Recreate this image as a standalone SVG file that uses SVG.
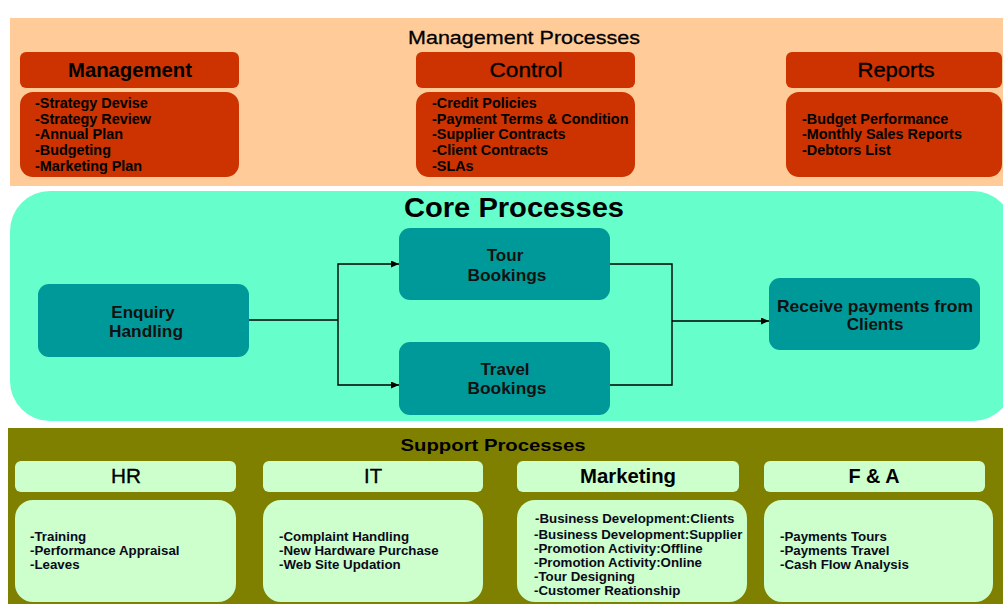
<svg xmlns="http://www.w3.org/2000/svg" width="1003" height="604" viewBox="0 0 1003 604">
  <defs>
    <marker id="arrow" markerWidth="8" markerHeight="7" refX="8" refY="3.5" orient="auto" markerUnits="userSpaceOnUse">
      <path d="M0,0 L8,3.5 L0,7 z" fill="#000"/>
    </marker>
  </defs>
  <style>
    text { font-family: "Liberation Sans", Arial, sans-serif; fill: #000; }
    .band-mgmt { fill: #FFCC99; }
    .band-core { fill: #66FFCC; }
    .band-sup { fill: #808000; }
    .red { fill: #CC3300; }
    .teal { fill: #009999; }
    .pale { fill: #CCFFCC; }
    .title { font-size: 19px; stroke: #000; stroke-width: 0.3; }
    .head { font-size: 20px; text-anchor: middle; }
    .reg { stroke: #000; stroke-width: 0.35; }
    .list { font-size: 14.4px; font-weight: bold; }
    .slist { font-size: 13.3px; font-weight: bold; fill: #0a0a1a; }
    .node { font-size: 17px; font-weight: bold; text-anchor: middle; fill: #111; }
    .conn { fill: none; stroke: #000; stroke-width: 1.4; }
  </style>

  <rect width="1003" height="604" fill="#fff"/>

  <!-- Management processes band -->
  <g id="management-processes">
    <rect class="band-mgmt" x="10" y="18" width="993" height="168"/>
    <text class="title" x="524" y="44" text-anchor="middle" textLength="232" lengthAdjust="spacingAndGlyphs">Management Processes</text>
  </g>

  <g id="management">
    <rect class="red" x="20" y="52" width="219" height="36" rx="6"/>
    <text class="head" x="130" y="77" font-weight="bold" textLength="124" lengthAdjust="spacingAndGlyphs">Management</text>
    <rect class="red" x="20" y="92" width="219" height="85" rx="13"/>
    <text class="list">
      <tspan x="35" y="108">-Strategy Devise</tspan>
      <tspan x="35" y="123.5">-Strategy Review</tspan>
      <tspan x="35" y="139">-Annual Plan</tspan>
      <tspan x="35" y="155">-Budgeting</tspan>
      <tspan x="35" y="170.5">-Marketing Plan</tspan>
    </text>
  </g>

  <g id="control">
    <rect class="red" x="416" y="52" width="219" height="36" rx="6"/>
    <text class="head reg" x="526" y="77" textLength="73" lengthAdjust="spacingAndGlyphs">Control</text>
    <rect class="red" x="416" y="92" width="219" height="85" rx="13"/>
    <text class="list">
      <tspan x="432" y="108">-Credit Policies</tspan>
      <tspan x="432" y="123.5">-Payment Terms &amp; Condition</tspan>
      <tspan x="432" y="139">-Supplier Contracts</tspan>
      <tspan x="432" y="155">-Client Contracts</tspan>
      <tspan x="432" y="170.5">-SLAs</tspan>
    </text>
  </g>

  <g id="reports">
    <rect class="red" x="786" y="52" width="216" height="36" rx="6"/>
    <text class="head reg" x="896" y="77" textLength="77" lengthAdjust="spacingAndGlyphs">Reports</text>
    <rect class="red" x="786" y="92" width="216" height="85" rx="13"/>
    <text class="list">
      <tspan x="802" y="123.5">-Budget Performance</tspan>
      <tspan x="802" y="139">-Monthly Sales Reports</tspan>
      <tspan x="802" y="155">-Debtors List</tspan>
    </text>
  </g>

  <!-- Core processes band -->
  <g id="core-processes">
    <rect class="band-core" x="10" y="191" width="1003" height="230" rx="40"/>
    <text x="514" y="217" font-size="27" font-weight="bold" text-anchor="middle" textLength="220" lengthAdjust="spacingAndGlyphs">Core Processes</text>
  </g>

  <g id="enquiry-handling">
    <rect class="teal" x="38" y="284" width="211" height="73" rx="11"/>
    <text class="node" x="143" y="318">Enquiry</text>
    <text class="node" x="146" y="337" textLength="74" lengthAdjust="spacingAndGlyphs">Handling</text>
  </g>

  <g id="tour-bookings">
    <rect class="teal" x="399" y="228" width="211" height="72" rx="11"/>
    <text class="node" x="505" y="261">Tour</text>
    <text class="node" x="507" y="281" textLength="79" lengthAdjust="spacingAndGlyphs">Bookings</text>
  </g>

  <g id="travel-bookings">
    <rect class="teal" x="399" y="342" width="211" height="73" rx="11"/>
    <text class="node" x="505" y="375">Travel</text>
    <text class="node" x="507" y="394" textLength="79" lengthAdjust="spacingAndGlyphs">Bookings</text>
  </g>

  <g id="receive-payments">
    <rect class="teal" x="769" y="278" width="211" height="72" rx="11"/>
    <text class="node" x="875" y="312" textLength="196" lengthAdjust="spacingAndGlyphs">Receive payments from</text>
    <text class="node" x="875" y="330">Clients</text>
  </g>

  <g id="connectors">
    <path class="conn" d="M249,320 H338"/>
    <path class="conn" d="M338,320 V264 H399" marker-end="url(#arrow)"/>
    <path class="conn" d="M338,320 V385 H399" marker-end="url(#arrow)"/>
    <path class="conn" d="M610,264 H672 V321"/>
    <path class="conn" d="M610,385 H672 V321"/>
    <path class="conn" d="M672,321 H769" marker-end="url(#arrow)"/>
  </g>

  <!-- Support processes band -->
  <g id="support-processes">
    <rect class="band-sup" x="8" y="428" width="995" height="176"/>
    <text x="493" y="451" font-size="17" font-weight="bold" text-anchor="middle" textLength="185" lengthAdjust="spacingAndGlyphs">Support Processes</text>
  </g>

  <g id="hr">
    <rect class="pale" x="15" y="461" width="221" height="31" rx="6"/>
    <text class="head reg" x="126" y="483" textLength="30" lengthAdjust="spacingAndGlyphs">HR</text>
    <rect class="pale" x="15" y="500" width="221" height="102" rx="18"/>
    <text class="slist">
      <tspan x="30" y="541">-Training</tspan>
      <tspan x="30" y="555">-Performance Appraisal</tspan>
      <tspan x="30" y="568.5">-Leaves</tspan>
    </text>
  </g>

  <g id="it">
    <rect class="pale" x="263" y="461" width="220" height="31" rx="6"/>
    <text class="head reg" x="373" y="483" textLength="18" lengthAdjust="spacingAndGlyphs">IT</text>
    <rect class="pale" x="263" y="500" width="220" height="102" rx="18"/>
    <text class="slist">
      <tspan x="279" y="541">-Complaint Handling</tspan>
      <tspan x="279" y="555">-New Hardware Purchase</tspan>
      <tspan x="279" y="568.5">-Web Site Updation</tspan>
    </text>
  </g>

  <g id="marketing">
    <rect class="pale" x="517" y="461" width="222" height="31" rx="6"/>
    <text class="head" x="628" y="483" font-weight="bold" textLength="96" lengthAdjust="spacingAndGlyphs">Marketing</text>
    <rect class="pale" x="517" y="500" width="230" height="102" rx="18"/>
    <text class="slist">
      <tspan x="535" y="522.5">-Business Development:Clients</tspan>
      <tspan x="534" y="538.5">-Business Development:Supplier</tspan>
      <tspan x="534" y="552.5">-Promotion Activity:Offline</tspan>
      <tspan x="534" y="566.5">-Promotion Activity:Online</tspan>
      <tspan x="534" y="580.5">-Tour Designing</tspan>
      <tspan x="534" y="595">-Customer Reationship</tspan>
    </text>
  </g>

  <g id="f-and-a">
    <rect class="pale" x="764" y="461" width="221" height="31" rx="6"/>
    <text class="head" x="874" y="483" font-weight="bold" textLength="51" lengthAdjust="spacingAndGlyphs">F &amp; A</text>
    <rect class="pale" x="764" y="500" width="229" height="102" rx="18"/>
    <text class="slist">
      <tspan x="780" y="541">-Payments Tours</tspan>
      <tspan x="780" y="555">-Payments Travel</tspan>
      <tspan x="780" y="568.5">-Cash Flow Analysis</tspan>
    </text>
  </g>
</svg>
